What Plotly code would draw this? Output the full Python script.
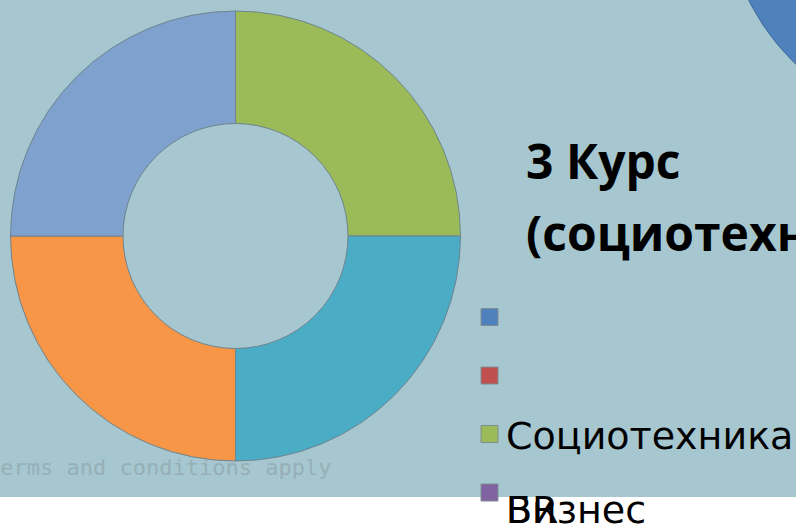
import plotly.graph_objects as go

W, H = 796, 524

# data
slice_labels = ["Социотехника", "BR", "Бизнес", "Другое"]
slice_values = [25, 25, 25, 25]
slice_colors = ["#9BBB59", "#4BACC6", "#F79646", "#7EA1CE"]

legend_labels = ["", "", "Социотехника", "BR"]
legend_overlap = ["", "", "", "Бизнес"]
legend_colors = ["#4F81BD", "#C0504D", "#9BBB59", "#8064A2"]

title_lines = ["3 Курс", "(социотехника)"]

BG = "#A6C7CF"

def px(x):
    return x / W

def py(y):
    return 1 - y / H

fig = go.Figure()
fig.add_trace(go.Pie(
    labels=slice_labels,
    values=slice_values,
    marker=dict(colors=slice_colors, line=dict(color="#6E8490", width=1)),
    hole=0.5,
    sort=False,
    direction="clockwise",
    rotation=0,
    textinfo="none",
    hoverinfo="label+value",
    showlegend=False,
    domain=dict(x=[px(10.5), px(460.5)], y=[py(461), py(11)]),
))

shapes = []
# big blue circle at top right (partial pie from another chart)
cx, cy, r = 957, -104, 233
shapes.append(dict(type="circle", xref="paper", yref="paper",
                   x0=px(cx - r), x1=px(cx + r), y0=py(cy + r), y1=py(cy - r),
                   fillcolor="#4F81BD", line=dict(color="#3F6A9A", width=1), layer="below"))
# white strip at bottom
shapes.append(dict(type="rect", xref="paper", yref="paper",
                   x0=0, x1=1, y0=0, y1=py(497),
                   fillcolor="#FFFFFF", line=dict(width=0), layer="below"))

annotations = []
# faint watermark
annotations.append(dict(text="Terms and conditions apply", x=px(-15), y=py(467),
                        xref="paper", yref="paper", xanchor="left", yanchor="middle",
                        showarrow=False,
                        font=dict(family="DejaVu Sans Mono", size=22, color="#96AFB7")))

# title
annotations.append(dict(text="<b>%s</b>" % title_lines[0], x=px(524), y=py(160),
                        xref="paper", yref="paper", xanchor="left", yanchor="middle",
                        showarrow=False,
                        font=dict(family="Open Sans", size=48, color="#000000")))
annotations.append(dict(text="<b>%s</b>" % title_lines[1], x=px(524), y=py(233),
                        xref="paper", yref="paper", xanchor="left", yanchor="middle",
                        showarrow=False,
                        font=dict(family="Open Sans", size=48, color="#000000")))

# legend
y0, dy = 317, 58.5
text_offsets = [2, 2, 2, 17]
for i, (lab, lab2, col) in enumerate(zip(legend_labels, legend_overlap, legend_colors)):
    yc = y0 + i * dy
    shapes.append(dict(type="rect", xref="paper", yref="paper",
                       x0=px(481), x1=px(498), y0=py(yc + 8.5), y1=py(yc - 8.5),
                       fillcolor=col, line=dict(color="#7F8C92", width=1)))
    for t in (lab, lab2):
        if t:
            annotations.append(dict(text=t, x=px(504), y=py(yc + text_offsets[i]),
                                    xref="paper", yref="paper", xanchor="left", yanchor="middle",
                                    showarrow=False,
                                    font=dict(family="DejaVu Sans", size=38, color="#000000")))

fig.update_layout(
    width=W, height=H,
    margin=dict(l=0, r=0, t=0, b=0),
    paper_bgcolor=BG, plot_bgcolor=BG,
    shapes=shapes, annotations=annotations,
)

fig.write_html("out.html",
               config={"displayModeBar": False},
               post_script="document.body.style.margin='0px';document.body.style.overflow='hidden';")
